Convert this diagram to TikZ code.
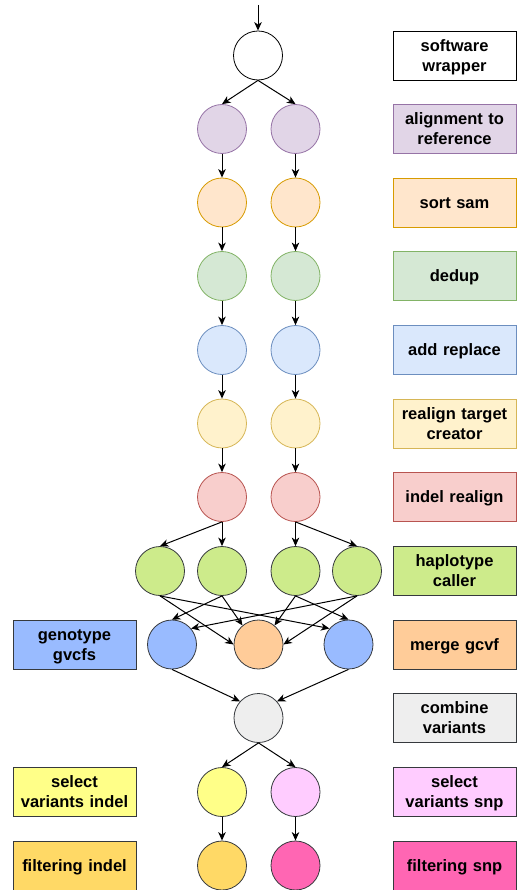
\documentclass[tikz,border=0pt]{standalone}
\usepackage{fontspec}
\setmainfont{Liberation Sans}
\usetikzlibrary{arrows.meta}
\definecolor{purF}{HTML}{E1D5E7}\definecolor{purD}{HTML}{9673A6}
\definecolor{oraF}{HTML}{FFE6CC}\definecolor{oraD}{HTML}{D79B00}
\definecolor{grnF}{HTML}{D5E8D4}\definecolor{grnD}{HTML}{82B366}
\definecolor{bluF}{HTML}{DAE8FC}\definecolor{bluD}{HTML}{6C8EBF}
\definecolor{yelF}{HTML}{FFF2CC}\definecolor{yelD}{HTML}{D6B656}
\definecolor{redF}{HTML}{F8CECC}\definecolor{redD}{HTML}{B85450}
\definecolor{darkD}{HTML}{36393D}
\definecolor{hapF}{HTML}{CDEB8B}
\definecolor{gtF}{HTML}{99BBFF}
\definecolor{mrgF}{HTML}{FFCC99}
\definecolor{cmbF}{HTML}{EEEEEE}
\definecolor{siF}{HTML}{FFFF88}
\definecolor{ssF}{HTML}{FFCCFF}
\definecolor{fiF}{HTML}{FFD966}
\definecolor{fsF}{HTML}{FF66B3}
\begin{document}
\begin{tikzpicture}[x=1pt,y=-1pt,
  circ/.style={circle, minimum size=49pt, inner sep=0pt, line width=0.8pt},
  lbl/.style={rectangle, minimum width=123pt, minimum height=49pt, inner sep=0pt,
    line width=0.8pt, font=\bfseries\fontsize{16.5}{19.8}\selectfont, align=center, text width=121pt,
    execute at begin node={\rule{0pt}{15.6pt}}, execute at end node={\rule[-4.2pt]{0pt}{4.2pt}}},
  arr/.style={-{Stealth[length=8.5pt,width=7.5pt,inset=2.5pt]}, line width=1pt},
  wrapS/.style={draw=black, fill=white},
  purS/.style={draw=purD, fill=purF},
  oraS/.style={draw=oraD, fill=oraF},
  grnS/.style={draw=grnD, fill=grnF},
  bluS/.style={draw=bluD, fill=bluF},
  yelS/.style={draw=yelD, fill=yelF},
  redS/.style={draw=redD, fill=redF},
  hapS/.style={draw=darkD, fill=hapF},
  gtS/.style={draw=darkD, fill=gtF},
  mrgS/.style={draw=darkD, fill=mrgF},
  cmbS/.style={draw=darkD, fill=cmbF},
  siS/.style={draw=darkD, fill=siF},
  ssS/.style={draw=darkD, fill=ssF},
  fiS/.style={draw=darkD, fill=fiF},
  fsS/.style={draw=darkD, fill=fsF},
]
\useasboundingbox (0,0) rectangle (517,890);

% labels right
\node[lbl, wrapS] (lw) at (454.5,55.5) {software\\wrapper};
\node[lbl, purS] (la) at (454.5,129) {alignment to\\reference};
\node[lbl, oraS] (ls) at (454.5,202.5) {sort sam};
\node[lbl, grnS] (ld) at (454.5,276) {dedup};
\node[lbl, bluS] (lr) at (454.5,350) {add replace};
\node[lbl, yelS] (lt) at (454.5,423.5) {realign target\\creator};
\node[lbl, redS] (li) at (454.5,497) {indel realign};
\node[lbl, hapS] (lh) at (454.5,571) {haplotype\\caller};
\node[lbl, mrgS] (lm) at (454.5,644.5) {merge gcvf};
\node[lbl, cmbS] (lc) at (454.5,718) {combine\\variants};
\node[lbl, ssS] (lss) at (454.5,792) {select\\variants snp};
\node[lbl, fsS] (lfs) at (454.5,865.5) {filtering snp};
% labels left
\node[lbl, gtS] (lg) at (74.5,644.5) {genotype\\gvcfs};
\node[lbl, siS] (lsi) at (74.5,792) {select\\variants indel};
\node[lbl, fiS] (lfi) at (74.5,865.5) {filtering indel};

% circles
\coordinate (start) at (258,5);
\node[circ, wrapS] (c0) at (258,55.5) {};
\node[circ, purS] (a1) at (222,129) {};
\node[circ, purS] (a2) at (295.5,129) {};
\node[circ, oraS] (s1) at (222,202.5) {};
\node[circ, oraS] (s2) at (295.5,202.5) {};
\node[circ, grnS] (d1) at (222,276) {};
\node[circ, grnS] (d2) at (295.5,276) {};
\node[circ, bluS] (r1) at (222,350) {};
\node[circ, bluS] (r2) at (295.5,350) {};
\node[circ, yelS] (t1) at (222,423.5) {};
\node[circ, yelS] (t2) at (295.5,423.5) {};
\node[circ, redS] (i1) at (222,497) {};
\node[circ, redS] (i2) at (295.5,497) {};
\node[circ, hapS] (g1) at (160,571) {};
\node[circ, hapS] (g2) at (222,571) {};
\node[circ, hapS] (g3) at (295.5,571) {};
\node[circ, hapS] (g4) at (357,571) {};
\node[circ, gtS] (b1) at (172,644.5) {};
\node[circ, mrgS] (m) at (258.5,644.5) {};
\node[circ, gtS] (b2) at (348.5,644.5) {};
\node[circ, cmbS] (cv) at (258.5,718) {};
\node[circ, siS] (si) at (222,792) {};
\node[circ, ssS] (ss) at (295.5,792) {};
\node[circ, fiS] (fi) at (222,865.5) {};
\node[circ, fsS] (fs) at (295.5,865.5) {};

% connectors
\draw[arr] (start) -- (c0.north);
\draw[arr] (c0.south) -- (a1.north);
\draw[arr] (c0.south) -- (a2.north);
\foreach \u/\v in {a1/s1,a2/s2,s1/d1,s2/d2,d1/r1,d2/r2,r1/t1,r2/t2,t1/i1,t2/i2,si/fi,ss/fs}
  \draw[arr] (\u.south) -- (\v.north);
\draw[arr] (i1.south) -- (g1.north);
\draw[arr] (i1.south) -- (g2.north);
\draw[arr] (i2.south) -- (g3.north);
\draw[arr] (i2.south) -- (g4.north);
\draw[arr] (g1.south) -- (m.west);
\draw[arr] (g1.south) -- (b2.140);
\draw[arr] (g2.south) -- (b1.north);
\draw[arr] (g2.south) -- (m.130);
\draw[arr] (g3.south) -- (m.50);
\draw[arr] (g3.south) -- (b2.north);
\draw[arr] (g4.south) -- (b1.40);
\draw[arr] (g4.south) -- (m.east);
\draw[arr] (b1.south) -- (cv.138);
\draw[arr] (b2.south) -- (cv.42);
\draw[arr] (cv.south) -- (si.north);
\draw[arr] (cv.south) -- (ss.north);
\end{tikzpicture}
\end{document}
